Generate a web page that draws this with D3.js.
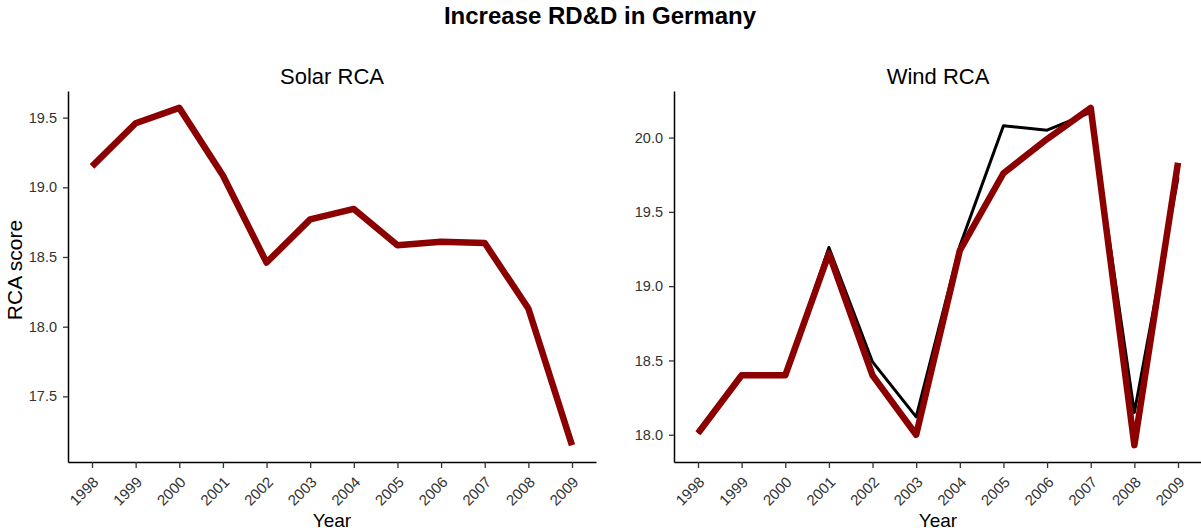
<!DOCTYPE html>
<html><head><meta charset="utf-8">
<script src="https://cdn.jsdelivr.net/npm/d3@7"></script>
<style>
body{margin:0;background:#fff;}
text{font-family:"Liberation Sans",Arial,sans-serif;}
</style></head>
<body><svg id="c" width="1201" height="532"></svg>
<script>
const years = [1998,1999,2000,2001,2002,2003,2004,2005,2006,2007,2008,2009];
const solarScenario = [19.15,19.46,19.57,19.085,18.46,18.77,18.845,18.585,18.61,18.60,18.13,17.15];
const windActual   = [18.01,18.40,18.40,19.26,18.49,18.12,19.27,20.08,20.05,20.17,18.15,19.73];
const windScenario = [18.01,18.40,18.40,19.22,18.40,18.00,19.24,19.76,19.99,20.20,17.93,19.83];
const solarTicks = [17.5,18.0,18.5,19.0,19.5];
const windTicks = [18.0,18.5,19.0,19.5,20.0];

const svg = d3.select("#c");
svg.append("text").attr("x",600).attr("y",24).attr("text-anchor","middle")
  .attr("font-size",24).attr("font-weight","bold").attr("fill","#000").text("Increase RD&D in Germany");

function panel(opts){
  const {x0,x1,y0,y1,title,series,ticks,ylabel} = opts;
  const all = series.flatMap(s=>s.values);
  const mn = d3.min(all), mx = d3.max(all), pad=(mx-mn)*0.05;
  const y = d3.scaleLinear().domain([mn-pad,mx+pad]).range([y1,y0]);
  const ypad = (2009-1998)*0.05;
  const x = d3.scaleLinear().domain([1998-ypad,2009+ypad]).range([x0,x1]);
  const g = svg.append("g");
  series.forEach(s=>{
    g.append("path").datum(years.map((yr,i)=>[yr,s.values[i]]))
      .attr("fill","none").attr("stroke",s.color).attr("stroke-width",s.width)
      .attr("stroke-linejoin","round")
      .attr("d",d3.line().x(d=>x(d[0])).y(d=>y(d[1])));
  });
  const ax = g.append("g").attr("transform",`translate(0,${y1})`)
    .call(d3.axisBottom(x).tickValues(years).tickFormat(d3.format("d")).tickSize(6).tickPadding(3).tickSizeOuter(0));
  ax.select(".domain").attr("stroke","#000").attr("stroke-width",1.5);
  ax.selectAll(".tick line").attr("stroke","#333").attr("stroke-width",1.3);
  ax.selectAll(".tick text").attr("font-size",15).attr("fill","#333")
    .attr("text-anchor","end").attr("y",0).attr("dy",0)
    .attr("transform","translate(7,21) rotate(-45)");
  const ay = g.append("g").attr("transform",`translate(${x0},0)`)
    .call(d3.axisLeft(y).tickValues(ticks).tickFormat(d3.format(".1f")).tickSize(5).tickPadding(6).tickSizeOuter(0));
  ay.select(".domain").attr("stroke","#000").attr("stroke-width",1.5);
  ay.selectAll(".tick line").attr("stroke","#333").attr("stroke-width",1.3);
  ay.selectAll(".tick text").attr("font-size",14.5).attr("fill","#333");
  svg.append("text").attr("x",(x0+x1)/2).attr("y",84).attr("text-anchor","middle")
    .attr("font-size",22).attr("fill","#000").text(title);
  svg.append("text").attr("x",(x0+x1)/2).attr("y",527).attr("text-anchor","middle")
    .attr("font-size",19).attr("fill","#000").text("Year");
  if(ylabel){
    svg.append("text").attr("transform",`translate(22,${270}) rotate(-90)`)
      .attr("text-anchor","middle").attr("font-size",21).attr("fill","#000").text(ylabel);
  }
}
panel({x0:68,x1:596,y0:91,y1:462,title:"Solar RCA",ylabel:"RCA score",ticks:solarTicks,
  series:[{values:solarScenario,color:"#8b0000",width:6.5}]});
panel({x0:674,x1:1202,y0:91,y1:462,title:"Wind RCA",ticks:windTicks,
  series:[{values:windActual,color:"#000",width:3},{values:windScenario,color:"#8b0000",width:6.5}]});
</script></body></html>
